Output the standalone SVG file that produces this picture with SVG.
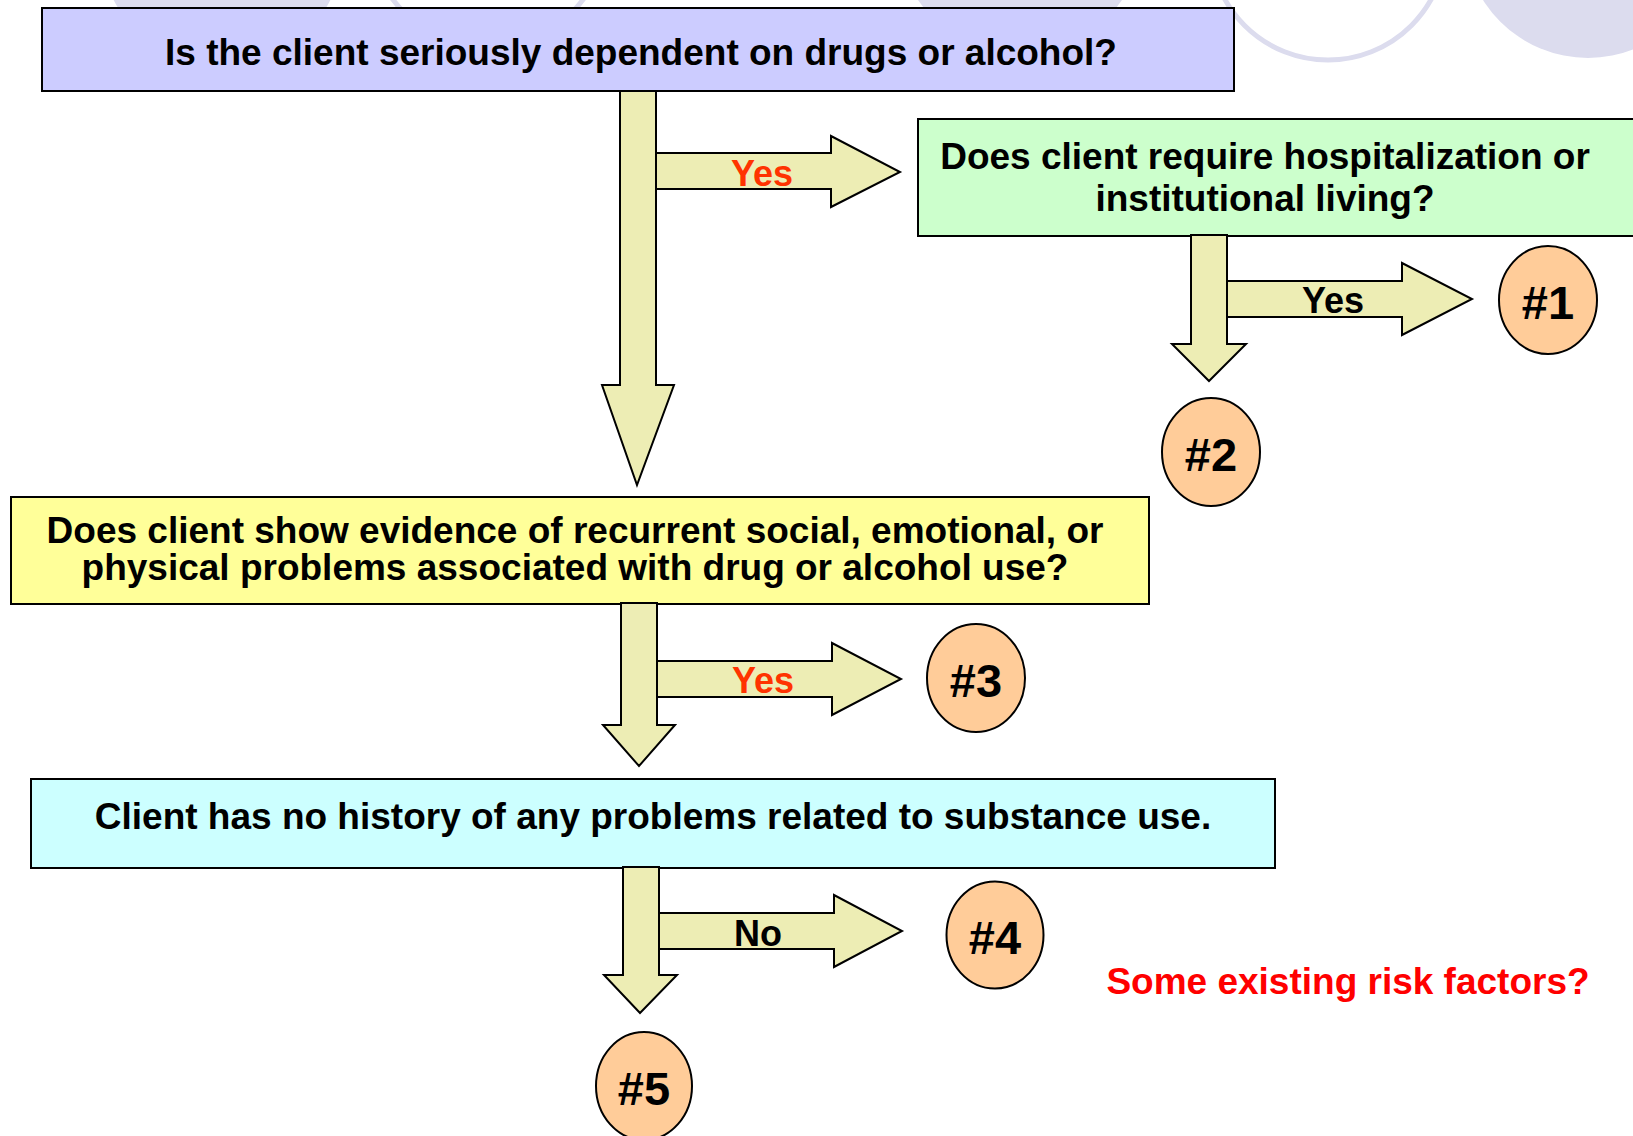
<svg xmlns="http://www.w3.org/2000/svg" width="1633" height="1136" viewBox="0 0 1633 1136">
  <style>
    .box { stroke: #000; stroke-width: 2; }
    .arrow { fill: #EDEDB4; stroke: #000; stroke-width: 2; stroke-linejoin: miter; }
    .end { fill: #FFCC99; stroke: #000; stroke-width: 2; }
    .q { font-family: "Liberation Sans", Arial, sans-serif; font-weight: bold; font-size: 37px; fill: #000; text-anchor: middle; }
    .num { font-family: "Liberation Sans", Arial, sans-serif; font-weight: bold; font-size: 47px; fill: #000; text-anchor: middle; }
    .lbl { font-family: "Liberation Sans", Arial, sans-serif; font-weight: bold; font-size: 36px; text-anchor: middle; }
    .yes { fill: #FF3300; }
    .blk { fill: #000; }
    .deco-fill { fill: #DCDCEE; }
    .deco-ring { fill: none; stroke: #DCDCEE; stroke-width: 5; }
  </style>

  <!-- decorative circles along the top edge -->
  <g id="decoration">
    <circle class="deco-fill" cx="222" cy="-56" r="122"/>
    <circle class="deco-ring" cx="488" cy="-72" r="119"/>
    <circle class="deco-fill" cx="1020" cy="-67" r="122"/>
    <circle class="deco-ring" cx="1328" cy="-58" r="118"/>
    <circle class="deco-fill" cx="1588" cy="-66" r="124"/>
  </g>

  <!-- question boxes -->
  <g id="q1">
    <rect class="box" x="42" y="8" width="1192" height="83" fill="#CCCCFF"/>
    <text class="q" x="641" y="65">Is the client seriously dependent on drugs or alcohol?</text>
  </g>
  <g id="q2">
    <rect class="box" x="918" y="119" width="730" height="117" fill="#CCFFCC"/>
    <text class="q" x="1265" y="169">Does client require hospitalization or</text>
    <text class="q" x="1265" y="211">institutional living?</text>
  </g>
  <g id="q3">
    <rect class="box" x="11" y="497" width="1138" height="107" fill="#FFFF99"/>
    <text class="q" x="575" y="543">Does client show evidence of recurrent social, emotional, or</text>
    <text class="q" x="575" y="580">physical problems associated with drug or alcohol use?</text>
  </g>
  <g id="q4">
    <rect class="box" x="31" y="779" width="1244" height="89" fill="#CCFFFF"/>
    <text class="q" x="653" y="829">Client has no history of any problems related to substance use.</text>
  </g>

  <!-- block-arrow connectors -->
  <g id="connectors">
    <!-- from q1 -->
    <polygon class="arrow" points="656,153 831,153 831,136 900,172 831,207 831,189 656,189"/>
    <polygon class="arrow" points="620,91 656,91 656,385 674,385 637,485 602,385 620,385"/>
    <text class="lbl yes" x="762" y="186">Yes</text>

    <!-- from q2 -->
    <polygon class="arrow" points="1227,281 1402,281 1402,263 1472,299 1402,335 1402,317 1227,317"/>
    <polygon class="arrow" points="1191,235 1227,235 1227,344 1246,344 1209,381 1172,344 1191,344"/>
    <text class="lbl blk" x="1333" y="313">Yes</text>

    <!-- from q3 -->
    <polygon class="arrow" points="657,661 832,661 832,643 901,679 832,715 832,697 657,697"/>
    <polygon class="arrow" points="621,603 657,603 657,725 675,725 639,766 603,725 621,725"/>
    <text class="lbl yes" x="763" y="693">Yes</text>

    <!-- from q4 -->
    <polygon class="arrow" points="659,913 834,913 834,895 902,931 834,967 834,949 659,949"/>
    <polygon class="arrow" points="623,867 659,867 659,975 677,975 640,1013 604,975 623,975"/>
    <text class="lbl blk" x="758" y="946">No</text>
  </g>

  <!-- outcome nodes -->
  <g id="n1">
    <ellipse class="end" cx="1548" cy="300" rx="49" ry="54"/>
    <text class="num" x="1548" y="319">#1</text>
  </g>
  <g id="n2">
    <ellipse class="end" cx="1211" cy="452" rx="49" ry="54"/>
    <text class="num" x="1211" y="471">#2</text>
  </g>
  <g id="n3">
    <ellipse class="end" cx="976" cy="678" rx="49" ry="54"/>
    <text class="num" x="976" y="697">#3</text>
  </g>
  <g id="n4">
    <ellipse class="end" cx="995" cy="935" rx="48.5" ry="53.5"/>
    <text class="num" x="995" y="954">#4</text>
  </g>
  <g id="n5">
    <ellipse class="end" cx="644" cy="1086" rx="48" ry="54"/>
    <text class="num" x="644" y="1105">#5</text>
  </g>

  <text id="note" class="q" x="1348" y="994" style="fill:#FF0000">Some existing risk factors?</text>
</svg>
